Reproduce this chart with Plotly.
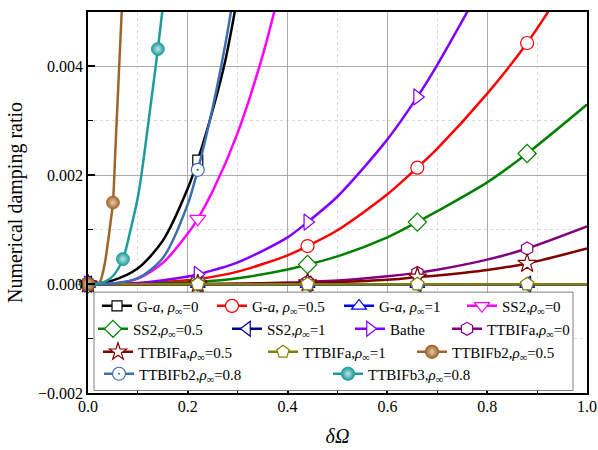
import plotly.graph_objects as go

# ---- series data: frequency ratio (δΩ) and numerical damping ratio ----
ga0_x = [0, 0.05, 0.1, 0.15, 0.2, 0.22, 0.25, 0.275, 0.3]
ga0_y = [0, 0.00007, 0.00029, 0.0008, 0.00176, 0.00228, 0.0032, 0.0041, 0.0053]

ga05_x = [0, 0.1, 0.2, 0.22, 0.3, 0.4, 0.44, 0.5, 0.6, 0.66, 0.7, 0.8, 0.88, 0.95]
ga05_y = [0, 0.00001, 0.00007, 0.00009, 0.00023, 0.00053, 0.0007, 0.00099, 0.00165,
          0.00214, 0.00249, 0.0035, 0.00443, 0.0054]

ga1_x = [0, 0.22, 0.44, 0.66, 0.88, 1.0]
ga1_y = [0, 0, 0, 0, 0, 0]

ss20_x = [0, 0.05, 0.1, 0.15, 0.2, 0.22, 0.25, 0.3, 0.35, 0.38]
ss20_y = [0, 0.00001, 0.0001, 0.00039, 0.00093, 0.0012, 0.00171, 0.00278, 0.0042, 0.00525]

ss205_x = [0, 0.1, 0.2, 0.22, 0.3, 0.4, 0.44, 0.5, 0.6, 0.66, 0.7, 0.8, 0.88, 1.0]
ss205_y = [0, 0.000005, 0.00003, 0.00004, 0.00011, 0.00027, 0.00036, 0.00051, 0.00086,
           0.00114, 0.00134, 0.00187, 0.0024, 0.0033]

ss21_x = [0, 0.22, 0.44, 0.66, 0.88, 1.0]
ss21_y = [0, 0, 0, 0, 0, 0]

bathe_x = [0, 0.1, 0.2, 0.22, 0.3, 0.4, 0.44, 0.5, 0.6, 0.66, 0.7, 0.8]
bathe_y = [0, 0.00002, 0.00014, 0.00018, 0.0004, 0.00086, 0.00114, 0.00161, 0.00266,
           0.00344, 0.00403, 0.00566]

tta0_x = [0, 0.22, 0.3, 0.4, 0.44, 0.5, 0.6, 0.66, 0.7, 0.8, 0.88, 1.0]
tta0_y = [0, 0.000002, 0.000009, 0.000028, 0.000041, 0.000066, 0.000143, 0.000207,
          0.000264, 0.00045, 0.000655, 0.00106]

tta05_x = [0, 0.22, 0.3, 0.4, 0.44, 0.5, 0.6, 0.66, 0.7, 0.8, 0.88, 1.0]
tta05_y = [0, 0.000001, 0.000005, 0.000016, 0.000023, 0.000038, 0.000082, 0.00013,
           0.00016, 0.00026, 0.00038, 0.000655]

tta1_x = [0, 0.22, 0.44, 0.66, 0.88, 1.0]
tta1_y = [0, 0, 0, 0, 0, 0]

ttb205_x = [0, 0.01, 0.02, 0.025, 0.03, 0.035, 0.04, 0.045, 0.05, 0.055, 0.06, 0.065, 0.07]
ttb205_y = [0, 0, 0.00001, 0.00006, 0.00022, 0.00045, 0.00077, 0.00112, 0.0015,
            0.0025, 0.0035, 0.0045, 0.0055]

ttb208_x = [0, 0.05, 0.1, 0.15, 0.2, 0.22, 0.25, 0.275, 0.29]
ttb208_y = [0, 0.00001, 0.00011, 0.00048, 0.00147, 0.0021, 0.00325, 0.0044, 0.0052]

ttb308_x = [0, 0.02, 0.035, 0.05, 0.07, 0.085, 0.1, 0.11, 0.12, 0.13, 0.14, 0.15]
ttb308_y = [0, 0.00001, 0.00005, 0.00015, 0.00046, 0.00099, 0.0016, 0.0022, 0.0029,
            0.0036, 0.00432, 0.0051]

# abscissas at which each curve carries a symbol
marks_std = [0, 0.22, 0.44, 0.66, 0.88]
marks_b205 = [0, 0.05]
marks_b208 = [0.22]
marks_b308 = [0.07, 0.14]

rho = "<i>ρ</i><sub>∞</sub>"
labels = [
    f"G-<i>a</i>, {rho}=0", f"G-<i>a</i>, {rho}=0.5", f"G-<i>a</i>, {rho}=1", f"SS2,{rho}=0",
    f"SS2,{rho}=0.5", f"SS2,{rho}=1", "Bathe", f"TTBIFa,{rho}=0",
    f"TTBIFa,{rho}=0.5", f"TTBIFa,{rho}=1", f"TTBIFb2,{rho}=0.5",
    f"TTBIFb2,{rho}=0.8", f"TTBIFb3,{rho}=0.8",
]

series = [
    (ga0_x, ga0_y, marks_std, "#000000", "square", 10, "#FFFFFF", None),
    (ga05_x, ga05_y, marks_std, "#FF0000", "circle", 13, "#FFFFFF", None),
    (ga1_x, ga1_y, marks_std, "#0000FF", "triangle-up", 13, "#FFFFFF", None),
    (ss20_x, ss20_y, marks_std, "#FF00FF", "triangle-down", 14, "#FFFFFF", None),
    (ss205_x, ss205_y, marks_std, "#008000", "diamond", 14, "#FFFFFF", None),
    (ss21_x, ss21_y, marks_std, "#000080", "triangle-left", 14, "#FFFFFF", None),
    (bathe_x, bathe_y, marks_std, "#8000FF", "triangle-right", 14, "#FFFFFF", None),
    (tta0_x, tta0_y, marks_std, "#800080", "hexagon", 13, "#FFFFFF", None),
    (tta05_x, tta05_y, marks_std, "#800000", "star", 14, "#FFFFFF", None),
    (tta1_x, tta1_y, marks_std, "#808000", "pentagon", 14, "#FFFFFF", None),
    (ttb205_x, ttb205_y, marks_b205, "#A0642A", "circle", 13, "#A0642A", "#E6CDB0"),
    (ttb208_x, ttb208_y, marks_b208, "#3D6EB0", "circle-dot", 13, "#FFFFFF", None),
    (ttb308_x, ttb308_y, marks_b308, "#1E9C9C", "circle", 13, "#1E9C9C", "#BDE6E6"),
]

# legend entry placement (text start in px, row centre in px)
legend_pos = [
    (137, 306), (252, 306), (379, 306), (502, 306),
    (133, 329), (267, 329), (390, 329), (487, 329),
    (138, 352), (303, 352), (452, 352),
    (139, 374), (368, 374),
]

FONT = "Liberation Serif"
PL, PR, PT, PB = 88, 587, 11.5, 393


def px_to_paper(px, py):
    return (px - PL) / (PR - PL), (PB - py) / (PB - PT)


fig = go.Figure()

for (xs, ys, mk, col, sym, size, fill, grad) in series:
    fig.add_trace(go.Scatter(
        x=xs, y=ys, mode="lines", showlegend=False, hoverinfo="skip",
        line=dict(color=col, width=2.5, shape="spline", smoothing=0.8),
    ))
    mx = [x for x in xs if x in mk]
    my = [y for x, y in zip(xs, ys) if x in mk]
    marker = dict(symbol=sym, size=size, color=fill, line=dict(color=col, width=1.2))
    if grad:
        marker["gradient"] = dict(type="radial", color=grad)
        marker["line"] = dict(color=col, width=0.8)
    fig.add_trace(go.Scatter(
        x=mx, y=my, mode="markers", showlegend=False, cliponaxis=False,
        marker=marker,
    ))

legends = {}
for i, ((xs, ys, mk, col, sym, size, fill, grad), name, (tx, ty)) in enumerate(
        zip(series, labels, legend_pos)):
    key = "legend" if i == 0 else f"legend{i + 1}"
    marker = dict(symbol=sym, size=min(size, 13), color=fill,
                  line=dict(color=col, width=1.2))
    if grad:
        marker["gradient"] = dict(type="radial", color=grad)
    fig.add_trace(go.Scatter(
        x=[None], y=[None], mode="lines+markers", name=name, legend=key,
        line=dict(color=col, width=2.5), marker=marker,
    ))
    lx, ly = px_to_paper(tx - 40, ty)
    legends[key] = dict(
        x=lx, y=ly, xanchor="left", yanchor="middle", orientation="h",
        bgcolor="rgba(0,0,0,0)", borderwidth=0,
        font=dict(family=FONT, size=15, color="black"),
    )

bx0, by0 = px_to_paper(94, 390.5)
bx1, by1 = px_to_paper(573, 292)
fig.add_shape(type="rect", xref="paper", yref="paper", x0=bx0, y0=by0, x1=bx1, y1=by1,
              line=dict(color="#7F7F7F", width=1), fillcolor="white", layer="above")

axis_common = dict(
    showline=True, linecolor="black", linewidth=1.5, mirror=True,
    ticks="inside", ticklen=7, tickwidth=1.5, tickcolor="black",
    showgrid=True, gridcolor="#ABABAB", gridwidth=1, zeroline=False,
    automargin=False,
    tickfont=dict(family=FONT, size=16, color="black"),
)

fig.update_layout(
    width=598, height=450,
    margin=dict(l=PL, r=598 - PR, t=PT, b=450 - PB),
    plot_bgcolor="white", paper_bgcolor="white",
    font=dict(family=FONT, color="black"),
    xaxis=dict(
        range=[0, 1], dtick=0.2, tick0=0, tickformat=".1f", ticklabelstandoff=-2,
        title=dict(text="<i>δΩ</i>", font=dict(family=FONT, size=20), standoff=15),
        minor=dict(dtick=0.1, ticks="inside", ticklen=5, tickwidth=1.2, tickcolor="black",
                   showgrid=True, gridcolor="#D9D9D9", griddash="dot", gridwidth=1),
        **axis_common,
    ),
    yaxis=dict(
        range=[-0.002, 0.005], dtick=0.002, tick0=0, tickformat=".3f",
        title=dict(text="Numerical damping ratio", font=dict(family=FONT, size=20), standoff=10),
        minor=dict(dtick=0.001, ticks="inside", ticklen=5, tickwidth=1.2, tickcolor="black",
                   showgrid=True, gridcolor="#D9D9D9", griddash="dot", gridwidth=1),
        **axis_common,
    ),
    **legends,
)

fig.write_html("out.html")
